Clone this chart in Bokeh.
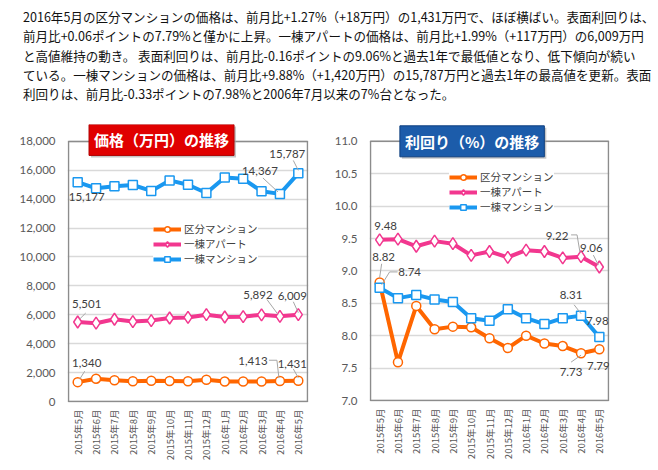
import math
from bokeh.plotting import figure
from bokeh.models import Div, Label, FixedTicker, Legend, LegendItem, NumeralTickFormatter
from bokeh.layouts import column, row
from bokeh.embed import file_html
from bokeh.resources import INLINE

# ---------------- data ----------------
months = ["2015年5月", "2015年6月", "2015年7月", "2015年8月", "2015年9月", "2015年10月",
          "2015年11月", "2015年12月", "2016年1月", "2016年2月", "2016年3月", "2016年4月", "2016年5月"]
series_names = ["区分マンション", "一棟アパート", "一棟マンション"]

price_kubun = [1340, 1580, 1470, 1400, 1440, 1420, 1400, 1510, 1380, 1380, 1390, 1413, 1431]
price_apart = [5501, 5420, 5690, 5530, 5600, 5780, 5820, 6010, 5850, 5870, 6000, 5892, 6009]
price_mansion = [15177, 14750, 14890, 14980, 14570, 15300, 15000, 14430, 15500, 15410, 14550, 14367, 15787]

yield_kubun = [8.82, 7.59, 8.46, 8.10, 8.14, 8.13, 7.96, 7.81, 8.00, 7.88, 7.84, 7.73, 7.79]
yield_apart = [9.48, 9.49, 9.38, 9.46, 9.42, 9.24, 9.30, 9.21, 9.32, 9.30, 9.20, 9.22, 9.06]
yield_mansion = [8.74, 8.58, 8.63, 8.56, 8.52, 8.27, 8.23, 8.41, 8.27, 8.18, 8.27, 8.31, 7.98]

price_ticks = [0, 2000, 4000, 6000, 8000, 10000, 12000, 14000, 16000, 18000]
yield_ticks = [7.0, 7.5, 8.0, 8.5, 9.0, 9.5, 10.0, 10.5, 11.0]

price_title = "価格（万円）の推移"
yield_title = "利回り（%）の推移"

text_lines = [
    "2016年5月の区分マンションの価格は、前月比+1.27%（+18万円）の1,431万円で、ほぼ横ばい。表面利回りは、",
    "前月比+0.06ポイントの7.79%と僅かに上昇。一棟アパートの価格は、前月比+1.99%（+117万円）の6,009万円",
    "と高値維持の動き。 表面利回りは、前月比-0.16ポイントの9.06%と過去1年で最低値となり、低下傾向が続い",
    "ている。一棟マンションの価格は、前月比+9.88%（+1,420万円）の15,787万円と過去1年の最高値を更新。表面",
    "利回りは、前月比-0.33ポイントの7.98%と2006年7月以来の7%台となった。",
]

# ---------------- style ----------------
COLORS = ["#FF6600", "#F2378F", "#1A98F0"]
MARKERS = [("circle", 9), ("diamond", 12), ("square", 9)]
FW, FH, MB = 239, 262, 60          # plot-box size (px) and bottom border
PL, PR, PT, PB = 1, 1, 17, 1       # frame padding around the plot box (px)
CJK = "Noto Sans CJK JP"
NUM = "Lato"


def make_fig(ymin, ymax, ticks, fmt, ml, mr, mt):
    sx = 13.0 / FW
    sy = (ymax - ymin) / FH
    p = figure(width=ml + FW + mr, height=mt + FH + MB,
               x_range=(-0.5 - PL * sx, 12.5 + PR * sx),
               y_range=(ymin - PB * sy, ymax + PT * sy),
               output_backend="svg", toolbar_location=None,
               min_border_left=ml - PL, min_border_right=mr - PR,
               min_border_top=mt - PT, min_border_bottom=MB - PB)
    p.background_fill_color = "white"
    p.border_fill_color = "white"
    p.outline_line_color = None
    p.xgrid.visible = False
    p.ygrid.grid_line_color = "#D9D9D9"
    p.ygrid.grid_line_width = 1.5
    # plot-area border drawn on the axis limits
    p.quad(left=[-0.5], right=[12.5], bottom=[ymin], top=[ymax], fill_color=None,
           line_color="#8C8C8C", line_width=1.5)

    xa = p.xaxis[0]
    xa.ticker = FixedTicker(ticks=list(range(len(months))), minor_ticks=[])
    xa.major_label_overrides = {i: m for i, m in enumerate(months)}
    xa.major_label_orientation = math.pi / 2
    xa.axis_line_color = None
    xa.major_tick_line_color = None
    xa.minor_tick_line_color = None
    xa.major_tick_in = 0
    xa.major_tick_out = 0
    xa.major_label_standoff = 8 - PB
    xa.major_label_text_font = CJK
    xa.major_label_text_font_size = "9.5px"
    xa.major_label_text_color = "#595959"

    ya = p.yaxis[0]
    ya.ticker = FixedTicker(ticks=ticks, minor_ticks=[])
    ya.formatter = NumeralTickFormatter(format=fmt)
    ya.axis_line_color = None
    ya.major_tick_line_color = None
    ya.minor_tick_line_color = None
    ya.major_tick_in = 0
    ya.major_tick_out = 0
    ya.major_label_standoff = 13 - PL
    ya.major_label_text_font = NUM
    ya.major_label_text_font_size = "11.5px"
    ya.major_label_text_color = "#595959"
    return p


def add_series(p, data_list, legend_xy):
    x = list(range(len(months)))
    items = []
    for name, ys, col, (mk, sz) in zip(series_names, data_list, COLORS, MARKERS):
        l = p.line(x, ys, line_color=col, line_width=4, line_join="round")
        m = p.scatter(x, ys, marker=mk, size=sz, fill_color="white", line_color=col, line_width=1.5)
        items.append(LegendItem(label=name, renderers=[l, m]))
    leg = Legend(items=items, location=(legend_xy[0] + PL, legend_xy[1] + PB), border_line_color=None,
                 background_fill_color="white", background_fill_alpha=1.0,
                 padding=0, margin=0, spacing=0, glyph_width=28, glyph_height=14,
                 label_height=14, label_standoff=3,
                 label_text_font=CJK, label_text_font_size="10.5px", label_text_color="#404040")
    p.add_layout(leg)


def add_labels(p, annots, fmt, ymin, ymax):
    sx = 13.0 / FW
    sy = (ymax - ymin) / FH
    lx, ly = [], []
    for ys, i, dx, dy, leader in annots:
        v = ys[i]
        p.add_layout(Label(x=i, y=v, x_offset=dx, y_offset=-dy, text=fmt(v),
                           text_align="center", text_baseline="middle",
                           text_font=NUM, text_font_size="11.5px", text_color="#404040"))
        if leader:
            lx.append([i + px * sx for px, py in leader])
            ly.append([v - py * sy for px, py in leader])
    if lx:
        p.multi_line(lx, ly, line_color="#A6A6A6", line_width=1)


def add_title(p, xc, yc, text, bg, border):
    p.add_layout(Label(x=xc, y=yc, x_offset=2, y_offset=-2, text=text, text_align="center",
                       text_baseline="middle", text_font=CJK, text_font_style="bold",
                       text_font_size="15px", text_color="#A0A0A0",
                       background_fill_color="#A0A0A0", background_fill_alpha=0.6,
                       padding=5))
    p.add_layout(Label(x=xc, y=yc, text=text, text_align="center", text_baseline="middle",
                       text_font=CJK, text_font_style="bold", text_font_size="15px",
                       text_color="white", background_fill_color=bg,
                       border_line_color=border, border_line_width=1, padding=5))


# ---------------- price chart ----------------
p1 = make_fig(0, 18000, price_ticks, "0,0", 68, 24, 35)
add_series(p1, [price_kubun, price_apart, price_mansion], (85, 135))
fmt_p = lambda v: "{:,}".format(v)
add_labels(p1, [
    (price_mansion, 0, 9, 15, None),
    (price_mansion, 11, -20, -23, [(-17, -16), (-2, -2)]),
    (price_mansion, 12, -11, -19, [(-5, -13), (0, -3)]),
    (price_apart, 0, 9, -18, [(2, -3), (8, -9)]),
    (price_apart, 11, -22, -21, [(-13, -17), (-2, -2)]),
    (price_apart, 12, -6, -19, [(-5, -13), (0, -2)]),
    (price_kubun, 0, 9, -19, [(2, -3), (7, -11)]),
    (price_kubun, 11, -27, -20, [(-11, -21), (-3, -21), (-1, -3)]),
    (price_kubun, 12, -6, -17, [(-5, -12), (0, -3)]),
], fmt_p, 0, 18000)
add_title(p1, 4.56, 18100, price_title, "#E00000", "#B00000")

# ---------------- yield chart ----------------
p2 = make_fig(7.0, 11.0, yield_ticks, "0.0", 38, 20, 34)
add_series(p2, [yield_kubun, yield_apart, yield_mansion], (79, 186))
fmt_y = lambda v: "{:.2f}".format(v)
add_labels(p2, [
    (yield_apart, 0, 6, -14, None),
    (yield_apart, 11, -24, -21, [(-10, -22), (-4, -22), (-1, -4)]),
    (yield_apart, 12, -8, -19, [(-6, -12), (-1, -2)]),
    (yield_kubun, 0, 4, -26, [(2, -19), (0, -5)]),
    (yield_mansion, 0, 30, -16, [(18, -16), (10, -16), (2, -3)]),
    (yield_mansion, 11, -10, -21, [(-7, -11), (0, -2)]),
    (yield_mansion, 12, -2, -16, None),
    (yield_kubun, 11, -10, 19, [(-10, 9), (0, 2)]),
    (yield_kubun, 12, -1, 17, None),
], fmt_y, 7.0, 11.0)
add_title(p2, 5.05, 11.0, yield_title, "#1C5CAA", "#0E3F7F")

# ---------------- text ----------------
div = Div(text=("<div style=\"font-family:'Noto Sans CJK JP';font-size:12.55px;line-height:19.3px;"
                "white-space:nowrap;margin-left:23px;margin-top:7px;color:#111\">"
                + "<br>".join(text_lines) + "</div>"),
          width=650, height=106, margin=0)

layout = column(div, row(p1, p2, spacing=0, margin=0), spacing=0, margin=0)
open("out.html", "w").write(file_html(layout, INLINE))
